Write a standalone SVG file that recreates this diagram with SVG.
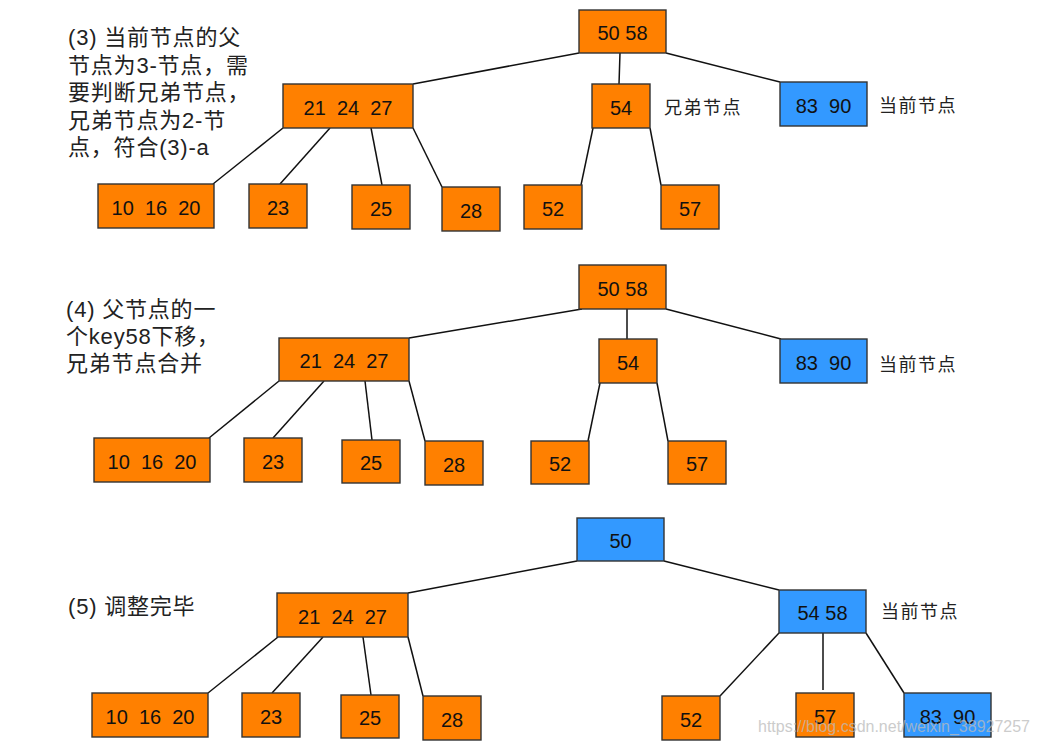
<svg xmlns="http://www.w3.org/2000/svg" width="1040" height="745" viewBox="0 0 1040 745">
<style>
.o{fill:#FF8000;stroke:#333;stroke-width:1.4}
.b{fill:#3399FF;stroke:#333;stroke-width:1.4}
.t{font-family:"Liberation Sans",Arial,sans-serif;font-size:20px;fill:#111;text-anchor:middle;white-space:pre}
.lbl{font-family:"Liberation Sans","Noto Sans CJK SC",sans-serif;font-size:18px;fill:#222;letter-spacing:1.5px}
.ann{font-family:"Liberation Sans","Noto Sans CJK SC",sans-serif;font-size:22px;fill:#222;letter-spacing:0.8px}
.e line{stroke:#111;stroke-width:1.5}
.wm{font-family:"Liberation Sans",Arial,sans-serif;font-size:16px;fill:#bbb;opacity:0.75}
</style>
<rect width="1040" height="745" fill="#fff"/>

<!-- Annotations -->
<g id="ann3">
<text class="ann" x="68" y="45">(3) 当前节点的父</text>
<text class="ann" x="68" y="72.5">节点为3-节点，需</text>
<text class="ann" x="68" y="100">要判断兄弟节点，</text>
<text class="ann" x="68" y="127.5">兄弟节点为2-节</text>
<text class="ann" x="68" y="155">点，符合(3)-a</text>
</g>
<g id="ann4">
<text class="ann" x="66" y="317">(4) 父节点的一</text>
<text class="ann" x="66" y="344">个key58下移，</text>
<text class="ann" x="66" y="371">兄弟节点合并</text>
</g>
<g id="ann5">
<text class="ann" x="68" y="614">(5) 调整完毕</text>
</g>

<!-- Connectors -->
<g id="connectors" class="e">
<!-- section 1 -->
<line x1="579" y1="53" x2="413" y2="84"/>
<line x1="620" y1="53" x2="619" y2="84"/>
<line x1="666" y1="53" x2="780" y2="82"/>
<line x1="283" y1="128" x2="213" y2="184"/>
<line x1="330" y1="128" x2="280" y2="184"/>
<line x1="371" y1="128" x2="382" y2="185"/>
<line x1="413" y1="128" x2="442" y2="187"/>
<line x1="593" y1="128" x2="581" y2="185"/>
<line x1="650" y1="128" x2="661" y2="185"/>
<!-- section 2 -->
<line x1="582" y1="309" x2="409" y2="338"/>
<line x1="627" y1="309" x2="627" y2="339"/>
<line x1="666" y1="309" x2="781" y2="339"/>
<line x1="279" y1="381" x2="209" y2="438"/>
<line x1="324" y1="381" x2="273" y2="438"/>
<line x1="365" y1="381" x2="372" y2="440"/>
<line x1="409" y1="381" x2="425" y2="441"/>
<line x1="600" y1="383" x2="588" y2="441"/>
<line x1="657" y1="383" x2="668" y2="441"/>
<!-- section 3 -->
<line x1="577" y1="561" x2="408" y2="593"/>
<line x1="664" y1="561" x2="779" y2="590"/>
<line x1="278" y1="637" x2="208" y2="693"/>
<line x1="323" y1="637" x2="272" y2="693"/>
<line x1="363" y1="637" x2="371" y2="695"/>
<line x1="408" y1="637" x2="423" y2="696"/>
<line x1="779" y1="633" x2="720" y2="696"/>
<line x1="823" y1="633" x2="823" y2="690"/>
<line x1="866" y1="633" x2="904" y2="693"/>
</g>

<!-- Section 1 nodes -->
<g id="s1-root"><rect class="o" x="579" y="10" width="87" height="43"/><text class="t" x="622.5" y="40">50 58</text></g>
<g id="s1-212427"><rect class="o" x="283" y="84" width="130" height="44"/><text class="t" x="348" y="114.5">21  24  27</text></g>
<g id="s1-54"><rect class="o" x="592" y="84" width="58" height="44"/><text class="t" x="621" y="114.5">54</text></g>
<g id="s1-8390"><rect class="b" x="780" y="82" width="87" height="44"/><text class="t" x="823.5" y="112.5">83  90</text></g>
<g id="s1-101620"><rect class="o" x="98" y="184" width="116" height="44"/><text class="t" x="156" y="214.5">10  16  20</text></g>
<g id="s1-23"><rect class="o" x="249" y="184" width="58" height="44"/><text class="t" x="278" y="214.5">23</text></g>
<g id="s1-25"><rect class="o" x="352" y="185" width="58" height="44"/><text class="t" x="381" y="215.5">25</text></g>
<g id="s1-28"><rect class="o" x="442" y="187" width="58" height="44"/><text class="t" x="471" y="217.5">28</text></g>
<g id="s1-52"><rect class="o" x="524" y="185" width="58" height="44"/><text class="t" x="553" y="215.5">52</text></g>
<g id="s1-57"><rect class="o" x="661" y="185" width="58" height="44"/><text class="t" x="690" y="215.5">57</text></g>
<text class="lbl" x="664" y="114">兄弟节点</text>
<text class="lbl" x="879" y="112">当前节点</text>

<!-- Section 2 nodes -->
<g id="s2-root"><rect class="o" x="579" y="265" width="87" height="44"/><text class="t" x="622.5" y="295.5">50 58</text></g>
<g id="s2-212427"><rect class="o" x="279" y="338" width="130" height="43"/><text class="t" x="344" y="368">21  24  27</text></g>
<g id="s2-54"><rect class="o" x="599" y="339" width="58" height="44"/><text class="t" x="628" y="369.5">54</text></g>
<g id="s2-8390"><rect class="b" x="780" y="339" width="87" height="44"/><text class="t" x="823.5" y="369.5">83  90</text></g>
<g id="s2-101620"><rect class="o" x="94" y="438" width="116" height="44"/><text class="t" x="152" y="468.5">10  16  20</text></g>
<g id="s2-23"><rect class="o" x="244" y="438" width="58" height="44"/><text class="t" x="273" y="468.5">23</text></g>
<g id="s2-25"><rect class="o" x="342" y="440" width="58" height="43"/><text class="t" x="371" y="470">25</text></g>
<g id="s2-28"><rect class="o" x="425" y="441" width="58" height="44"/><text class="t" x="454" y="471.5">28</text></g>
<g id="s2-52"><rect class="o" x="531" y="441" width="58" height="43"/><text class="t" x="560" y="471">52</text></g>
<g id="s2-57"><rect class="o" x="668" y="441" width="58" height="43"/><text class="t" x="697" y="471">57</text></g>
<text class="lbl" x="879" y="371">当前节点</text>

<!-- Section 3 nodes -->
<g id="s3-root"><rect class="b" x="577" y="518" width="87" height="43"/><text class="t" x="620.5" y="548">50</text></g>
<g id="s3-212427"><rect class="o" x="277" y="593" width="131" height="44"/><text class="t" x="342.5" y="623.5">21  24  27</text></g>
<g id="s3-5458"><rect class="b" x="779" y="590" width="87" height="43"/><text class="t" x="822.5" y="620">54 58</text></g>
<g id="s3-101620"><rect class="o" x="92" y="693" width="116" height="44"/><text class="t" x="150" y="723.5">10  16  20</text></g>
<g id="s3-23"><rect class="o" x="242" y="693" width="58" height="44"/><text class="t" x="271" y="723.5">23</text></g>
<g id="s3-25"><rect class="o" x="341" y="695" width="58" height="43"/><text class="t" x="370" y="725">25</text></g>
<g id="s3-28"><rect class="o" x="423" y="696" width="58" height="44"/><text class="t" x="452" y="726.5">28</text></g>
<g id="s3-52"><rect class="o" x="662" y="696" width="58" height="44"/><text class="t" x="691" y="726.5">52</text></g>
<g id="s3-57"><rect class="o" x="796" y="693" width="58" height="44"/><text class="t" x="825" y="723.5">57</text></g>
<g id="s3-8390"><rect class="b" x="904" y="693" width="87" height="44"/><text class="t" x="947.5" y="723.5">83  90</text></g>
<text class="lbl" x="881" y="618">当前节点</text>

<text class="wm" x="758" y="732" textLength="272" lengthAdjust="spacingAndGlyphs">https://blog.csdn.net/weixin_38927257</text>
</svg>
